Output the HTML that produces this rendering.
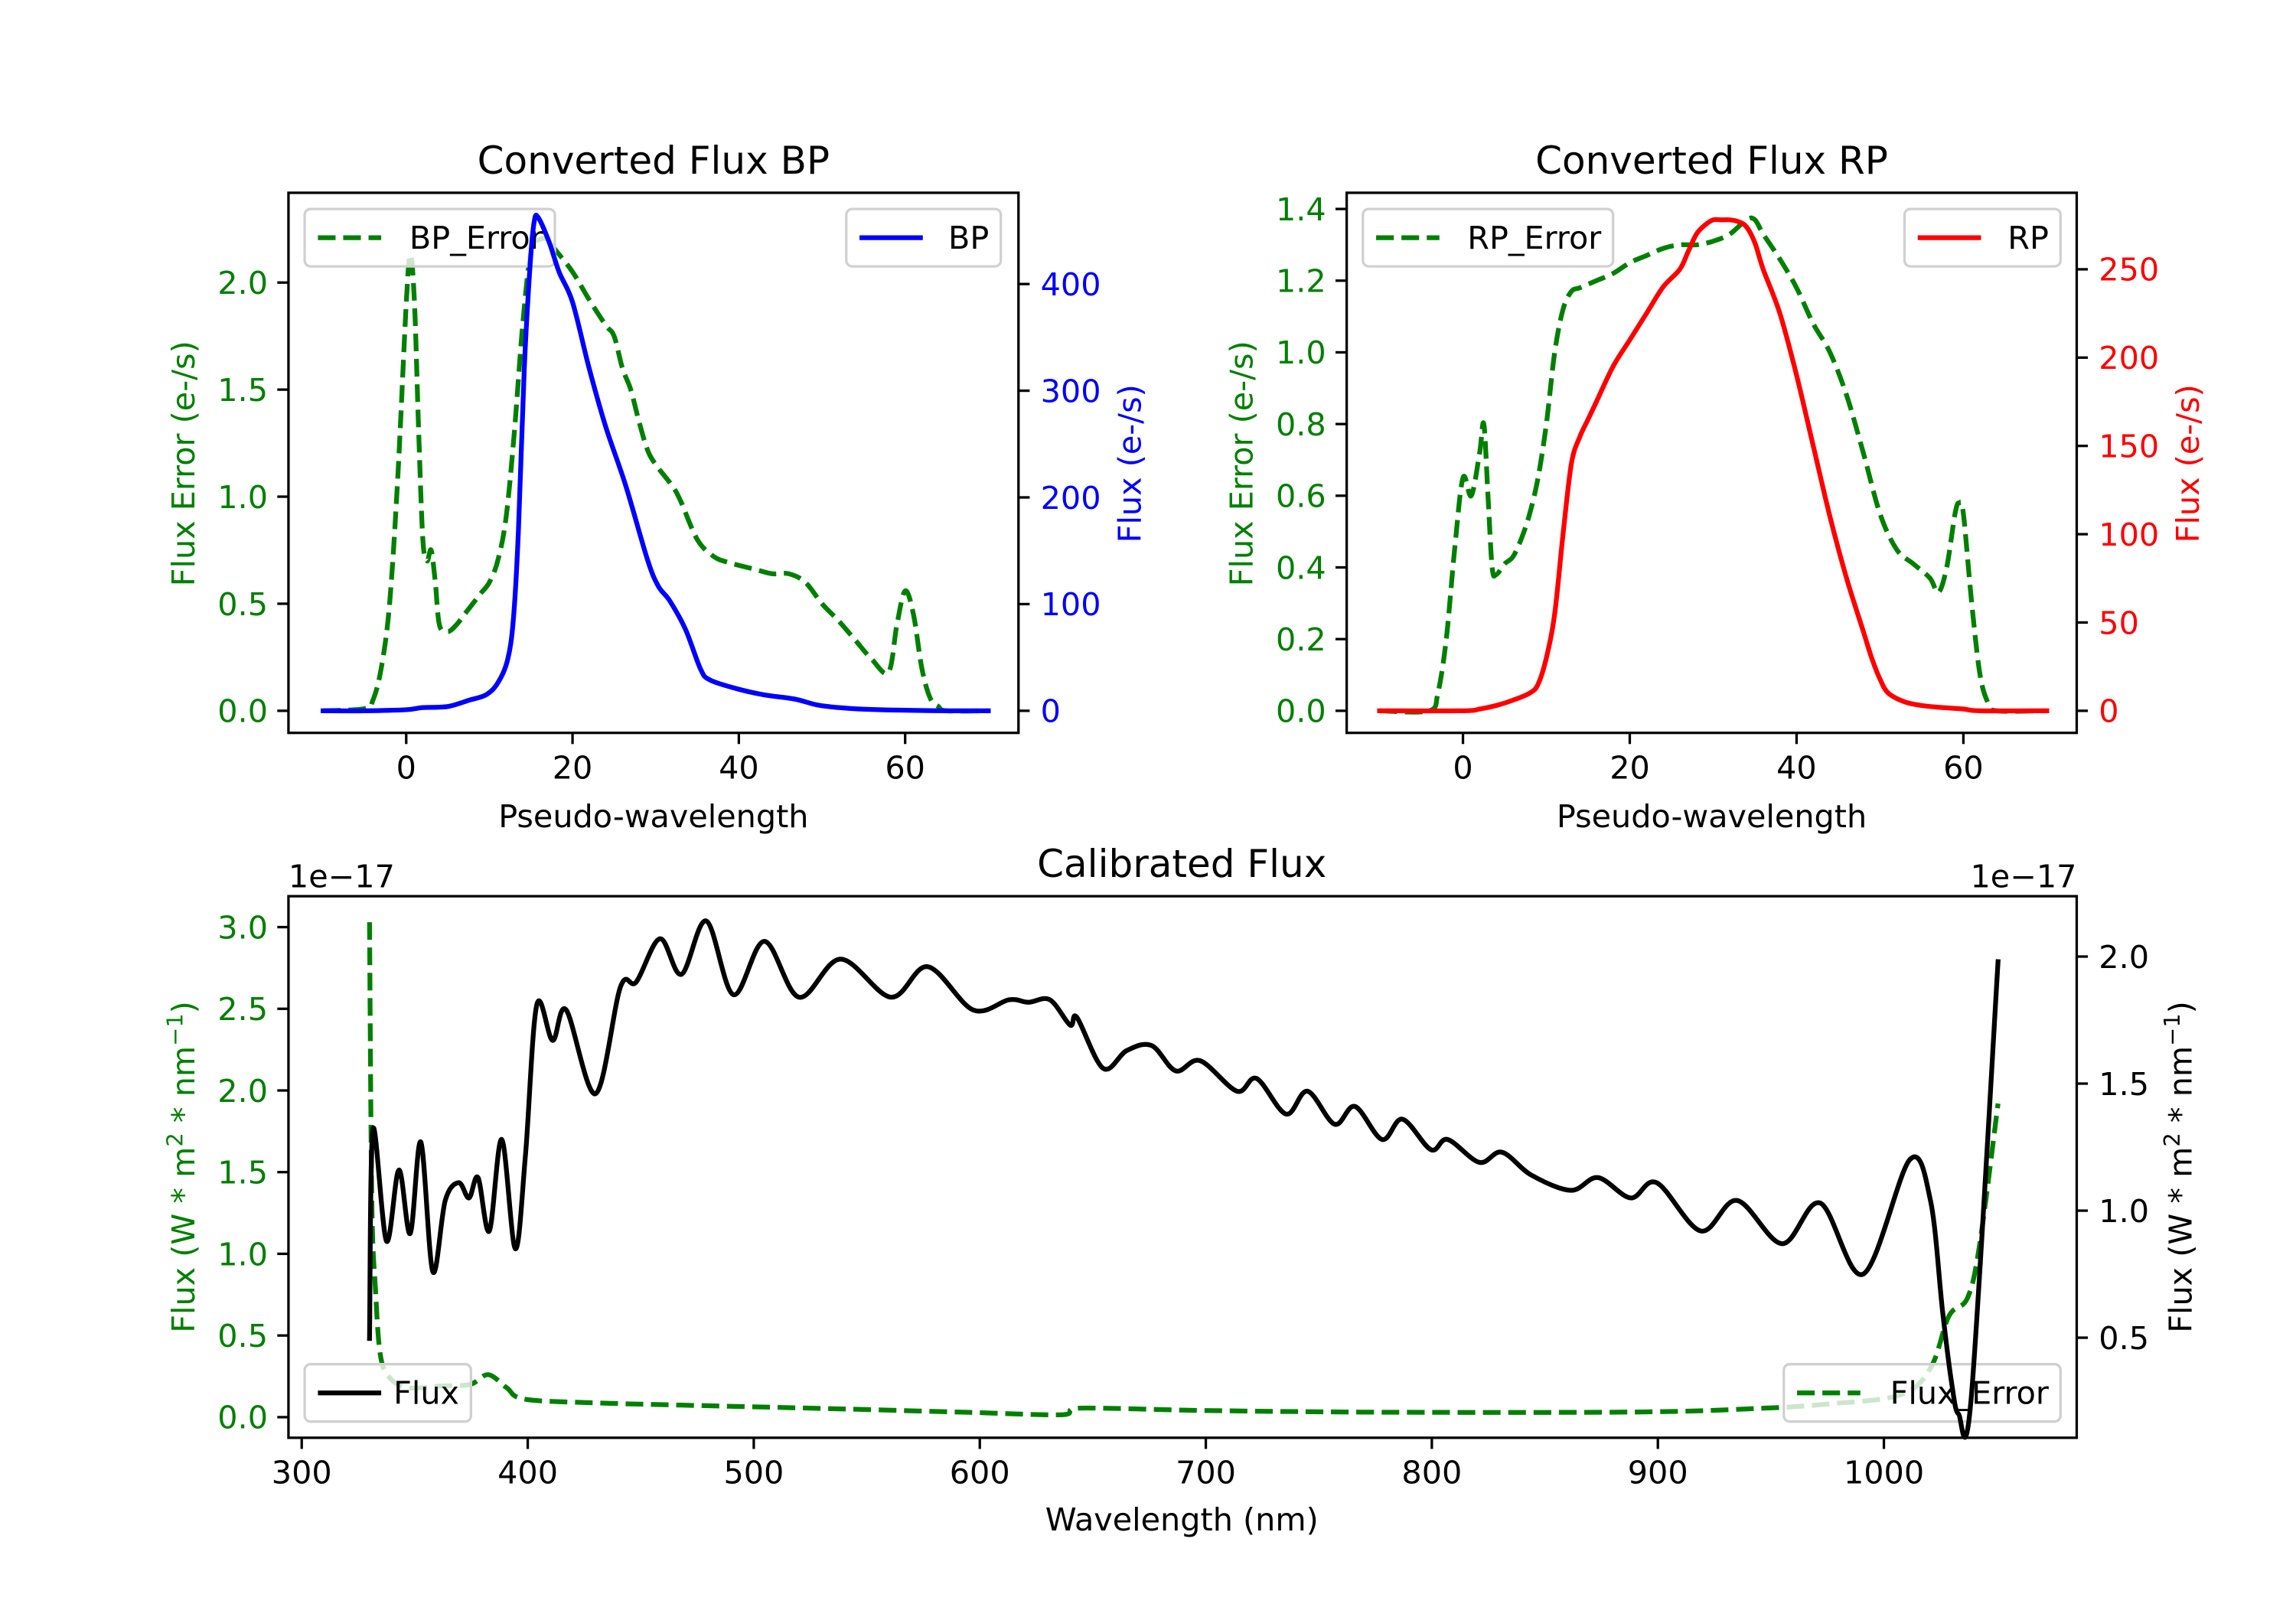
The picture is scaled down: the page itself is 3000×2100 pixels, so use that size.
<!DOCTYPE html>
<html><head><meta charset="utf-8"><style>
html,body{margin:0;padding:0;background:#fff;}
svg{display:block;font-family:"DejaVu Sans","Liberation Sans",sans-serif;}
</style></head><body>
<svg id="fig" width="3000" height="2100" viewBox="0 0 1560 1092" xmlns="http://www.w3.org/2000/svg"></svg>
<script>
// ---- data: Converted Flux BP ----
const bpX = [-10,-5,0,2,5,7.6,9.6,11,12.2,12.9,13.5,14.2,14.9,15.4,15.9,17.2,18.4,20,22,24,26.4,29,30.3,31.7,33.6,35.4,36.5,39.6,43,46.7,49.4,52,55,60,65,70];
const bpFlux = [0,0,1,3,4,10,15,26,48,87,170,321,418,459,462,439,411,383,321,266,211,142,117,103,76,39,29,21,15,11,5.5,3,1.5,0.5,0,0];
const bpErrX = [-10,-5,-4,-3,-2,-1,0,0.5,1,1.5,2,2.5,3,3.5,4,5,6,7,8,9,10,11,12,13,14,15,16,17,18,20,22,24,25,26,27,28,29,30,32,33,35,37,39,42,44,46,48,50,52,54,56,58,59,60,61,62,63,64,65,70];
const bpErr = [0,0.01,0.05,0.2,0.5,1.1,1.9,2.13,1.9,1.3,0.8,0.7,0.75,0.6,0.4,0.37,0.4,0.45,0.5,0.55,0.6,0.7,0.9,1.3,1.8,2.15,2.2,2.2,2.15,2.05,1.92,1.8,1.75,1.6,1.5,1.35,1.22,1.15,1.05,0.98,0.8,0.72,0.69,0.66,0.64,0.64,0.6,0.5,0.42,0.33,0.24,0.18,0.4,0.56,0.45,0.2,0.06,0.02,0,0];
// ---- data: Converted Flux RP ----
const rpX = [-10,0,2,4,6,8,9,10,11,12,13,14,15,16,18,20,22,24,26,27,28,29,30,31,32,33,34,35,36,38,40,42,44,46,48,49,50,51,53,55,57,60,62,70];
const rpFlux = [0,0,1,3,6,10,15,30,55,100,140,155,165,175,195,210,225,240,250,260,270,275,278,278,278,277,274,265,250,225,190,150,110,75,45,30,18,10,5,3,2,1,0,0];
const rpErrX = [-10,-4,-3,-2,-1,0,1,2,2.5,3,3.5,4,5,6,7,8,9,10,11,12,13,14,16,18,20,22,24,26,28,30,32,34,35,36,38,40,42,44,46,48,50,52,54,56,57,58,59,59.5,60,61,62,63,64,70];
const rpErr = [0,0,0.05,0.2,0.45,0.65,0.6,0.72,0.8,0.6,0.4,0.38,0.41,0.43,0.48,0.55,0.65,0.8,1.0,1.12,1.17,1.18,1.2,1.22,1.25,1.27,1.29,1.3,1.3,1.31,1.33,1.37,1.37,1.33,1.26,1.18,1.08,1.0,0.88,0.72,0.55,0.45,0.41,0.37,0.33,0.4,0.55,0.58,0.55,0.3,0.1,0.02,0,0];
// ---- data: Calibrated Flux (units of 1e-17) ----
const calX = [330,331.5,337.5,343,348,352.7,358,363.5,369.5,374,378,383,388.5,394.5,399,404,411,417,430,441,448,458.5,468,479,491,504.7,520,538.4,560.7,577,597,613,621.5,631,640,643,654.6,665,676,686.7,697.5,713.8,722.5,735.5,745,757,766,778,787,799.6,807,821,831,844,861.5,873.5,888,899.5,919,935,955,971.8,990.8,1011.4,1020.6,1026,1030,1033,1038.6,1050.5];
const calFlux = [0.497,1.32,0.88,1.16,0.91,1.27,0.76,1.04,1.11,1.05,1.13,0.92,1.28,0.85,1.22,1.81,1.67,1.79,1.46,1.88,1.90,2.07,1.93,2.14,1.85,2.06,1.84,1.99,1.84,1.96,1.79,1.83,1.82,1.83,1.73,1.76,1.56,1.63,1.65,1.55,1.59,1.47,1.52,1.38,1.47,1.34,1.41,1.28,1.36,1.24,1.28,1.19,1.23,1.14,1.08,1.13,1.05,1.11,0.92,1.04,0.87,1.03,0.75,1.20,1.04,0.60,0.32,0.20,0.26,1.98];
const calErrX = [330,331,332.6,334.8,339,347,360.8,374.4,382.5,390.7,398.8,431,485.7,540,594,636.7,643,703,784,893,947,974.5,1007,1020.6,1028.8,1037,1042.4,1050.5];
const calErr = [3.03,1.33,0.79,0.38,0.24,0.18,0.19,0.20,0.26,0.18,0.11,0.087,0.068,0.05,0.03,0.015,0.055,0.04,0.03,0.032,0.055,0.08,0.135,0.30,0.62,0.73,1.06,1.92];
const bpTicksX=[0,20,40,60], bpTicksL=[0,0.5,1.0,1.5,2.0], bpTicksR=[0,100,200,300,400];
const rpTicksL=[0,0.2,0.4,0.6,0.8,1.0,1.2,1.4], rpTicksR=[0,50,100,150,200,250];
const calTicksX=[300,400,500,600,700,800,900,1000], calTicksL=[0,0.5,1.0,1.5,2.0,2.5,3.0], calTicksR=[0.5,1.0,1.5,2.0];

const NS="http://www.w3.org/2000/svg";
const svg=document.getElementById('fig');
function el(tag,attrs,parent,text){const e=document.createElementNS(NS,tag);for(const k in attrs)e.setAttribute(k,attrs[k]);if(text!==undefined)e.textContent=text;(parent||svg).appendChild(e);return e;}
function lin(d0,d1,p0,p1){return v=>p0+(v-d0)*(p1-p0)/(d1-d0);}
function fmt(v,dec){return v.toFixed(dec);}
function pathD(xs,ys,sx,sy,smooth){
  const P=xs.map((x,i)=>[sx(x),sy(ys[i])]);
  if(!smooth)return P.map((p,i)=>(i?'L':'M')+p[0].toFixed(2)+','+p[1].toFixed(2)).join('');
  let d='M'+P[0][0].toFixed(2)+','+P[0][1].toFixed(2);
  for(let i=0;i<P.length-1;i++){
    const p0=P[Math.max(0,i-1)],p1=P[i],p2=P[i+1],p3=P[Math.min(P.length-1,i+2)];
    const k=1/6;
    let c1=[p1[0]+(p2[0]-p0[0])*k,p1[1]+(p2[1]-p0[1])*k];
    let c2=[p2[0]-(p3[0]-p1[0])*k,p2[1]-(p3[1]-p1[1])*k];
    c1[0]=Math.min(Math.max(c1[0],p1[0]),p2[0]);c2[0]=Math.min(Math.max(c2[0],p1[0]),p2[0]);
    d+='C'+c1[0].toFixed(2)+','+c1[1].toFixed(2)+' '+c2[0].toFixed(2)+','+c2[1].toFixed(2)+' '+p2[0].toFixed(2)+','+p2[1].toFixed(2);
  }
  return d;
}

function axesFrame(g,L,T,R,B){
  const r=el('rect',{x:L,y:T,width:R-L,height:B-T,fill:'none',stroke:'#000','stroke-width':1.7},g);
  
  
}
function xTicks(g,ticks,sx,B,dec,name){
  ticks.forEach(t=>{
    const x=sx(t);
    el('line',{x1:x,y1:B,x2:x,y2:B+7.6,stroke:'#000','stroke-width':1.7},g);
    const tx=el('text',{x:x,y:B+31,'font-size':21.5,'text-anchor':'middle',fill:'#000'},g,fmt(t,dec));
    
    
  });
}
function yTicks(g,ticks,sy,X,side,color,dec,name){
  ticks.forEach(t=>{
    const y=sy(t);
    const d=side==='left'?-7.6:7.6;
    el('line',{x1:X,y1:y,x2:X+d,y2:y,stroke:'#000','stroke-width':1.7},g);
    const tx=el('text',{x:side==='left'?X-14:X+15,y:y+7.7,'font-size':21.5,'text-anchor':side==='left'?'end':'start',fill:color},g,fmt(t,dec));
    
    
  });
}
function label(g,txt,x,y,rot,color,size,name,anchor){
  const t=el('text',{x:x,y:y,'font-size':size||21.5,'text-anchor':anchor||'middle',fill:color||'#000',transform:rot?`rotate(-90 ${x} ${y})`:''},g,txt);
  
  
  return t;
}
function series(g,xs,ys,sx,sy,color,dashed,name){
  const p=el('path',{d:pathD(xs,ys,sx,sy,true),fill:'none',stroke:color,'stroke-width':3.25,'stroke-linejoin':'round','stroke-linecap':dashed?'butt':'square'},g);
  if(dashed)p.setAttribute('stroke-dasharray','12 5.2');
  
  
}
function legend(g,x,y,w,txt,color,dashed,name){
  const lg=el('g',{},g);
  
  
  el('rect',{x:x,y:y,width:w,height:39,rx:4,fill:'#fff','fill-opacity':0.8,stroke:'#d0d0d0','stroke-width':1.7},lg);
  const ln=el('line',{x1:x+9,y1:y+19.5,x2:x+52,y2:y+19.5,stroke:color,'stroke-width':3.25},lg);
  if(dashed)ln.setAttribute('stroke-dasharray','12 5.2');
  el('text',{x:x+w-8,y:y+27,'font-size':21.5,'text-anchor':'end',fill:'#000'},lg,txt);
}

// ===== BP panel =====
(function(){
  const g=el('g',{});
  const L=196,R=692,T=131,B=498;
  const sx=lin(0,60,276,615), sl=lin(0,2.0,483,192), sr=lin(0,400,483,193);
  label(g,'Converted Flux BP',444,118,false,'#000',26,'bp-title');
  series(g,bpErrX,bpErr,sx,sl,'#008000',true,'bp-error-line');
  legend(g,207,142,170,'BP_Error','#008000',true,'bp-error-legend');
  series(g,bpX,bpFlux,sx,sr,'#0000ff',false,'bp-flux-line');
  legend(g,575,142,105,'BP','#0000ff',false,'bp-legend');
  axesFrame(g,L,T,R,B);
  xTicks(g,bpTicksX,sx,B,0,'bp-x');
  yTicks(g,bpTicksL,sl,L,'left','#008000',1,'bp-y-left');
  yTicks(g,bpTicksR,sr,R,'right','#0000ff',0,'bp-y-right');
  label(g,'Pseudo-wavelength',444,562,false,'#000',21.5,'bp-x-axis-title');
  label(g,'Flux Error (e-/s)',132,315,true,'#008000',21.5,'bp-y-left-title');
  label(g,'Flux (e-/s)',775,315,true,'#0000ff',21.5,'bp-y-right-title');
})();
// ===== RP panel =====
(function(){
  const g=el('g',{});
  const L=915,R=1411,T=131,B=498;
  const sx=lin(0,60,994,1334), sl=lin(0,1.4,483,142), sr=lin(0,250,483,183);
  label(g,'Converted Flux RP',1163,118,false,'#000',26,'rp-title');
  series(g,rpErrX,rpErr,sx,sl,'#008000',true,'rp-error-line');
  legend(g,926,142,170,'RP_Error','#008000',true,'rp-error-legend');
  series(g,rpX,rpFlux,sx,sr,'#ff0000',false,'rp-flux-line');
  legend(g,1294,142,106,'RP','#ff0000',false,'rp-legend');
  axesFrame(g,L,T,R,B);
  xTicks(g,bpTicksX,sx,B,0,'rp-x');
  yTicks(g,rpTicksL,sl,L,'left','#008000',1,'rp-y-left');
  yTicks(g,rpTicksR,sr,R,'right','#ff0000',0,'rp-y-right');
  label(g,'Pseudo-wavelength',1163,562,false,'#000',21.5,'rp-x-axis-title');
  label(g,'Flux Error (e-/s)',851,315,true,'#008000',21.5,'rp-y-left-title');
  label(g,'Flux (e-/s)',1494,315,true,'#ff0000',21.5,'rp-y-right-title');
})();
// ===== Calibrated panel =====
(function(){
  const g=el('g',{});
  const L=196,R=1411,T=609,B=977;
  const sx=lin(300,1000,205,1280), sl=lin(0,3.0,963,630), sr=lin(0.5,2.0,909,650);
  label(g,'Calibrated Flux',803,596,false,'#000',26,'calibrated-title');
  label(g,'1e\u221217',196,603,false,'#000',21.5,'left-offset-label','start');
  label(g,'1e\u221217',1411,603,false,'#000',21.5,'right-offset-label','end');
  series(g,calErrX,calErr,sx,sl,'#008000',true,'flux-error-line');
  legend(g,1212,927,188,'Flux_Error','#008000',true,'flux-error-legend');
  series(g,calX,calFlux,sx,sr,'#000000',false,'flux-line');
  legend(g,207,927,113,'Flux','#000000',false,'flux-legend');
  axesFrame(g,L,T,R,B);
  xTicks(g,calTicksX,sx,B,0,'cal-x');
  yTicks(g,calTicksL,sl,L,'left','#008000',1,'cal-y-left');
  yTicks(g,calTicksR,sr,R,'right','#000',1,'cal-y-right');
  label(g,'Wavelength (nm)',803,1040,false,'#000',21.5,'cal-x-axis-title');
  const t1=label(g,'',132,793,true,'#008000',21.5,'cal-y-left-title');
  t1.innerHTML='Flux (W * m<tspan dy="-8" font-size="15">2</tspan><tspan dy="8"> * nm</tspan><tspan dy="-8" font-size="15">\u22121</tspan><tspan dy="8">)</tspan>';
  const t2=label(g,'',1489,793,true,'#000',21.5,'cal-y-right-title');
  t2.innerHTML='Flux (W * m<tspan dy="-8" font-size="15">2</tspan><tspan dy="8"> * nm</tspan><tspan dy="-8" font-size="15">\u22121</tspan><tspan dy="8">)</tspan>';
})();
</script>
</body></html>
